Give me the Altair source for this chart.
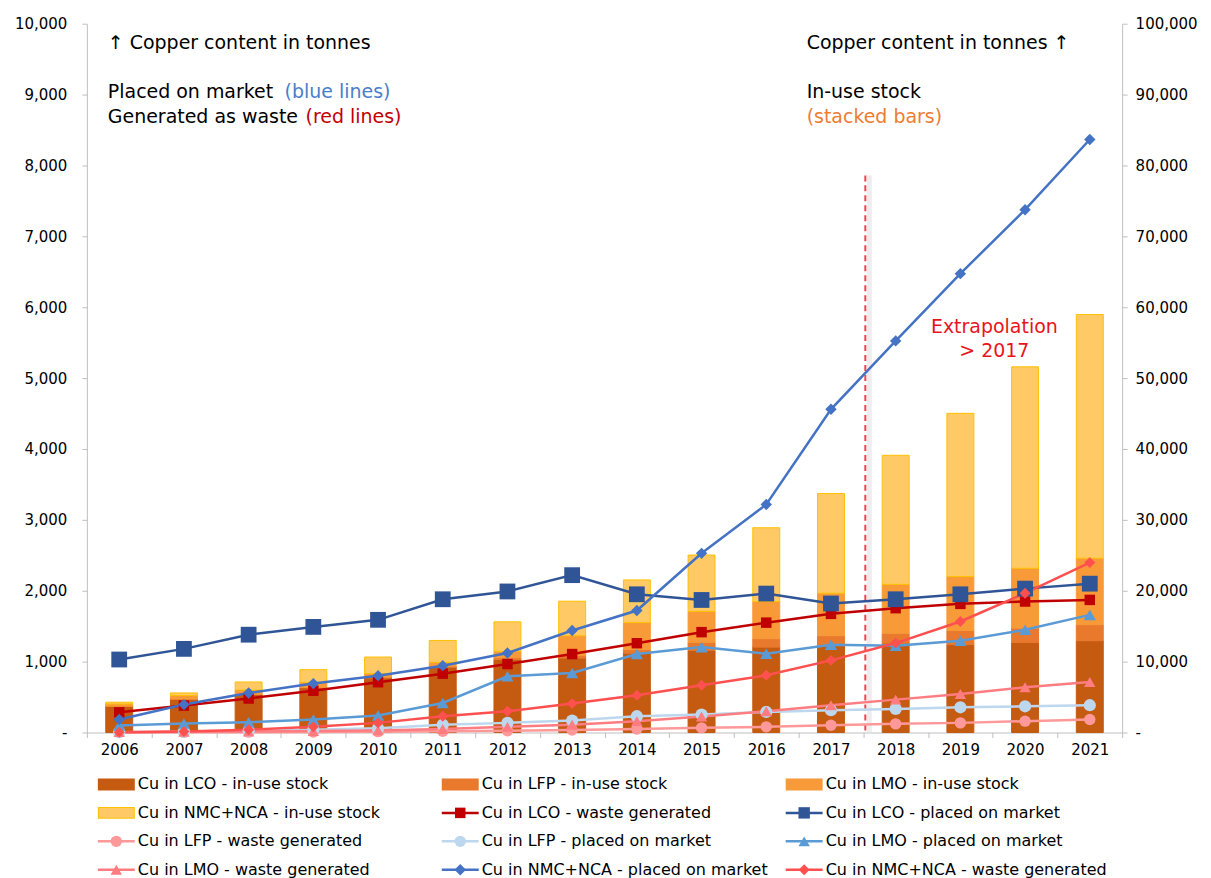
import altair as alt
import pandas as pd

FONT = "DejaVu Sans"

years = list(range(2006, 2022))

# In-use stock (right axis, tonnes)
lco_stock = [3700, 4700, 5350, 6300, 7700, 9200, 10300, 10500, 11200, 11600, 12050, 12250, 12600, 12400, 12700, 12950]
lfp_stock = [20, 30, 50, 80, 120, 150, 250, 400, 500, 1130, 1180, 1410, 1400, 2000, 2030, 2260]
lmo_stock = [300, 480, 600, 700, 500, 550, 900, 2750, 3800, 4360, 5250, 6000, 6900, 7600, 8440, 9380]
nmc_stock = [250, 375, 1130, 1790, 2330, 3090, 4170, 4880, 6030, 7950, 10410, 14060, 18210, 23030, 28420, 34380]

# Placed on market / waste generated (left axis, tonnes)
lco_waste = [285, 380, 480, 590, 710, 830, 966, 1107, 1260, 1416, 1550, 1674, 1754, 1815, 1848, 1871]
lco_pom = [1030, 1180, 1380, 1490, 1590, 1880, 1990, 2220, 1950, 1870, 1960, 1820, 1880, 1950, 2030, 2100]
lfp_waste = [0, 2, 5, 8, 12, 18, 25, 35, 50, 66, 80, 103, 122, 136, 160, 183]
lfp_pom = [5, 10, 20, 40, 60, 110, 136, 169, 230, 253, 290, 314, 333, 356, 370, 385]
lmo_pom = [98, 127, 145, 183, 240, 417, 793, 840, 1107, 1205, 1112, 1238, 1224, 1294, 1449, 1660]
lmo_waste = [5, 10, 15, 20, 30, 50, 80, 110, 160, 225, 300, 385, 464, 544, 638, 713]
nmc_pom = [183, 394, 558, 690, 802, 943, 1121, 1440, 1721, 2528, 3217, 4560, 5525, 6474, 7376, 8366]
nmc_waste = [5, 15, 40, 80, 136, 230, 300, 408, 525, 666, 807, 1018, 1262, 1566, 1965, 2397]

stock_names = ["Cu in LCO - in-use stock", "Cu in LFP - in-use stock",
               "Cu in LMO - in-use stock", "Cu in NMC+NCA - in-use stock"]
stock_values = [lco_stock, lfp_stock, lmo_stock, nmc_stock]
stock_colors = ["#C55A11", "#E8792D", "#F89A38", "#FFCA66"]
stock_strokes = ["#C55A11", "#E8792D", "#F89A38", "#FFC000"]

line_names = ["Cu in LCO - waste generated", "Cu in LCO - placed on market",
              "Cu in LFP - waste generated", "Cu in LFP - placed on market",
              "Cu in LMO - placed on market", "Cu in LMO - waste generated",
              "Cu in NMC+NCA - placed on market", "Cu in NMC+NCA - waste generated"]
line_values = [lco_waste, lco_pom, lfp_waste, lfp_pom, lmo_pom, lmo_waste, nmc_pom, nmc_waste]
line_colors = ["#C00000", "#2F5597", "#FF9999", "#BDD7EE", "#5B9BD5", "#FF7C80", "#4472C4", "#FF5050"]
line_shapes = ["square", "square", "circle", "circle", "triangle-up", "triangle-up", "diamond", "diamond"]
line_sizes = [110, 250, 130, 150, 150, 130, 130, 120]

# legend layout (3 columns, row-major)
legend_order = ["Cu in LCO - in-use stock", "Cu in LFP - in-use stock", "Cu in LMO - in-use stock",
                "Cu in NMC+NCA - in-use stock", "Cu in LCO - waste generated", "Cu in LCO - placed on market",
                "Cu in LFP - waste generated", "Cu in LFP - placed on market", "Cu in LMO - placed on market",
                "Cu in LMO - waste generated", "Cu in NMC+NCA - placed on market", "Cu in NMC+NCA - waste generated"]

# ---------- data frames ----------
bar_rows = []
for i, (name, vals) in enumerate(zip(stock_names, stock_values)):
    for y, v in zip(years, vals):
        bar_rows.append({"year": y, "series": name, "value": v, "ord": i})
bars_df = pd.DataFrame(bar_rows)

line_rows = []
for name, vals, c, s, z in zip(line_names, line_values, line_colors, line_shapes, line_sizes):
    for y, v in zip(years, vals):
        line_rows.append({"year": y, "series": name, "value": v, "col": c, "shp": s, "sz": z})
lines_df = pd.DataFrame(line_rows)

style = {}
for n, c, sc in zip(stock_names, stock_colors, stock_strokes):
    style[n] = ("bar", c, "square", 0, sc)
for n, c, s, z in zip(line_names, line_colors, line_shapes, line_sizes):
    style[n] = ("line", c, s, z, c)
leg_rows = []
for k, n in enumerate(legend_order):
    kind, c, s, z, sc = style[n]
    leg_rows.append({"label": n, "c": k % 3, "r": k // 3, "kind": kind, "col": c, "shp": s,
                     "sz": min(z, 130), "edge": sc})
leg_df = pd.DataFrame(leg_rows)

# ---------- scales & axes ----------
W, H = 1037, 710
x_scale = alt.Scale(paddingInner=0, paddingOuter=0)
x_axis = alt.Axis(title=None, labelAngle=0, tickBand="extent", domainColor="#BFBFBF",
                  tickColor="#BFBFBF", tickSize=5, labelFontSize=15, labelColor="#000000",
                  labelPadding=5, labelFont=FONT)
label_expr = "datum.value == 0 ? '-' : format(datum.value, ',')"
yl_scale = alt.Scale(domain=[0, 10000], nice=False)
yl_axis = alt.Axis(orient="left", title=None, values=list(range(0, 10001, 1000)), labelExpr=label_expr,
                   grid=False, domainColor="#BFBFBF", tickColor="#BFBFBF", tickSize=5,
                   labelPadding=15, labelFontSize=15, labelColor="#000000", labelFont=FONT)
yr_scale = alt.Scale(domain=[0, 100000], nice=False)
yr_axis = alt.Axis(orient="right", title=None, values=list(range(0, 100001, 10000)), labelExpr=label_expr,
                   grid=False, domainColor="#BFBFBF", tickColor="#BFBFBF", tickSize=5,
                   labelPadding=8, labelFontSize=15, labelColor="#000000", labelFont=FONT)

bars = alt.Chart(bars_df).mark_bar(size=27, strokeWidth=1).encode(
    x=alt.X("year:O", scale=x_scale, axis=x_axis),
    y=alt.Y("value:Q", stack="zero", scale=yr_scale, axis=yr_axis),
    color=alt.Color("series:N", scale=alt.Scale(domain=stock_names, range=stock_colors), legend=None),
    stroke=alt.Stroke("series:N", scale=alt.Scale(domain=stock_names, range=stock_strokes), legend=None),
    order=alt.Order("ord:Q", sort="ascending"),
)

lines = alt.Chart(lines_df).mark_line(strokeWidth=2.5).encode(
    x=alt.X("year:O", scale=x_scale, axis=x_axis),
    y=alt.Y("value:Q", scale=yl_scale, axis=yl_axis),
    color=alt.Color("col:N", scale=None),
    detail="series:N",
)
points = alt.Chart(lines_df).mark_point(filled=True, opacity=1).encode(
    x=alt.X("year:O", scale=x_scale, axis=x_axis),
    y=alt.Y("value:Q", scale=yl_scale, axis=yl_axis),
    color=alt.Color("col:N", scale=None),
    shape=alt.Shape("shp:N", scale=None),
    size=alt.Size("sz:Q", scale=None),
    detail="series:N",
)

split_df = pd.DataFrame({"year": [2017], "top": [7860]})
shadow = alt.Chart(split_df).mark_rule(color="#E3E3E3", strokeWidth=5, xOffset=6, opacity=0.6).encode(
    x=alt.X("year:O", bandPosition=1, scale=x_scale, axis=x_axis),
    y=alt.Y("top:Q", scale=yl_scale, axis=yl_axis),
    y2=alt.datum(0),
)
split = alt.Chart(split_df).mark_rule(color="#EE4455", strokeWidth=2, strokeDash=[6, 4], xOffset=2).encode(
    x=alt.X("year:O", bandPosition=1, scale=x_scale, axis=x_axis),
    y=alt.Y("top:Q", scale=yl_scale, axis=yl_axis),
    y2=alt.datum(0),
)


def note(text, x, y, color="#000000", align="left", size=19):
    return alt.Chart(pd.DataFrame({"t": [text]})).mark_text(
        align=align, baseline="middle", fontSize=size, font=FONT, color=color
    ).encode(text="t:N", x=alt.value(x), y=alt.value(y))


notes = [
    note("↑ Copper content in tonnes", 21, 19),
    note("Placed on market", 21, 68),
    note("(blue lines)", 198, 68, "#4A7EC9"),
    note("Generated as waste", 21, 93),
    note("(red lines)", 219, 93, "#C00000"),
    note("Copper content in tonnes ↑", 721, 19),
    note("In-use stock", 721, 68),
    note("(stacked bars)", 721, 93, "#ED7D31"),
    note("Extrapolation", 909, 304, "#E8141B", "center"),
    note("> 2017", 909, 328, "#E8141B", "center"),
]

inner = alt.layer(shadow, split, lines, points, *notes)
main = alt.layer(bars, inner).resolve_scale(y="independent").properties(width=W, height=H)

# ---------- legend ----------
lx = alt.Scale(domain=[0, 3], nice=False, zero=False)
ly = alt.Scale(domain=[0, 3], nice=False, zero=False, reverse=True)
LW, LH = 1033.5, 85.5
lbase = alt.Chart(leg_df)
lenc = dict(x=alt.X("c:Q", scale=lx, axis=None), y=alt.Y("r:Q", scale=ly, axis=None))
leg_bar_edge = lbase.transform_filter("datum.kind == 'bar'").mark_rule(
    strokeWidth=12, xOffset=11, x2Offset=48).encode(
    x2="c:Q", color=alt.Color("edge:N", scale=None), **lenc)
leg_bar = lbase.transform_filter("datum.kind == 'bar'").mark_rule(
    strokeWidth=10, xOffset=12, x2Offset=47).encode(
    x2="c:Q", color=alt.Color("col:N", scale=None), **lenc)
leg_line = lbase.transform_filter("datum.kind == 'line'").mark_rule(
    strokeWidth=2.5, xOffset=11, x2Offset=48).encode(
    x2="c:Q", color=alt.Color("col:N", scale=None), **lenc)
leg_pt = lbase.transform_filter("datum.kind == 'line'").mark_point(
    filled=True, opacity=1, xOffset=29.5).encode(
    color=alt.Color("col:N", scale=None), shape=alt.Shape("shp:N", scale=None),
    size=alt.Size("sz:Q", scale=None), **lenc)
leg_txt = lbase.mark_text(align="left", baseline="middle", xOffset=51, fontSize=16, font=FONT,
                          color="#000000").encode(text="label:N", **lenc)
legend = alt.layer(leg_bar_edge, leg_bar, leg_line, leg_pt, leg_txt).properties(width=LW, height=LH)

chart = alt.vconcat(main, legend, spacing=19).properties(
    padding={"left": 6, "top": 8, "right": 5, "bottom": 0}
).configure(font=FONT).configure_view(stroke="transparent", strokeWidth=0)

chart.save("out.html", embed_options={"renderer": "svg", "actions": False})
